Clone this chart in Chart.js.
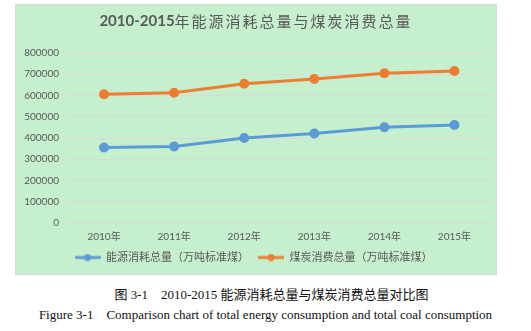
<!DOCTYPE html>
<html>
<head>
<meta charset="utf-8">
<script src="https://cdn.jsdelivr.net/npm/chart.js@4.4.0/dist/chart.umd.min.js"></script>
<style>
  body { margin: 0; background: #fff; width: 531px; height: 331px; overflow: hidden; }
  #box { position: absolute; left: 15px; top: 4px; width: 482px; height: 271px;
         background: #c6efce; border: 1px solid #d9d9d9; box-sizing: border-box; }
  #box canvas { display: block; }
  .cap { position: absolute; left: 0; width: 531px; text-align: center; color: #111;
         font-family: "Liberation Serif", "Noto Sans CJK SC", serif; font-size: 13px; white-space: pre; }
</style>
</head>
<body>
<div id="box"><canvas id="chartContainer" width="480" height="269"></canvas></div>
<div class="cap" style="top:284px; padding-left:12px; box-sizing:border-box;">图 3-1    2010-2015 能源消耗总量与煤炭消费总量对比图</div>
<div class="cap" style="top:307px;">Figure 3-1    Comparison chart of total energy consumption and total coal consumption</div>
<script>
// years and the two series (万吨标准煤)
var years = ['2010年', '2011年', '2012年', '2013年', '2014年', '2015年']
var energyTotal = [355000, 360000, 400000, 421000, 451000, 461000]
var coalTotal = [606000, 613000, 655000, 678000, 705000, 715000]
var seriesNames = ['能源消耗总量（万吨标准煤）', '煤炭消费总量（万吨标准煤）']
var titleYears = '2010-2015'
var titleText = '年能源消耗总量与煤炭消费总量'

var blue = '#5b9bd5'
var orange = '#ed7d31'
var grey = '#595959'
var fontStack = 'Lato, "Noto Sans CJK SC", sans-serif'

// small line-with-dot swatch for the legend
function legendSwatch(color) {
    var c = document.createElement('canvas')
    c.width = 26; c.height = 8
    var g = c.getContext('2d')
    g.strokeStyle = color; g.lineWidth = 3
    g.beginPath(); g.moveTo(0, 4); g.lineTo(26, 4); g.stroke()
    g.fillStyle = color
    g.beginPath(); g.arc(13, 4, 3.5, 0, Math.PI * 2); g.fill()
    return c
}

// title has bold digits and a regular CJK part
var titlePlugin = {
    id: 'mixedTitle',
    afterDraw: function(chart) {
        var ctx = chart.ctx
        ctx.save()
        ctx.textBaseline = 'middle'
        ctx.fillStyle = grey
        ctx.font = 'bold 15px ' + fontStack
        var w1 = ctx.measureText(titleYears).width
        ctx.font = '15px "Noto Sans CJK SC", sans-serif'
        ctx.letterSpacing = '2px'
        var w2 = ctx.measureText(titleText).width
        var x = chart.width / 2 - (w1 + w2) / 2
        var y = 16
        ctx.font = 'bold 15px ' + fontStack
        ctx.letterSpacing = '0px'
        ctx.fillText(titleYears, x, y)
        ctx.font = '15px "Noto Sans CJK SC", sans-serif'
        ctx.letterSpacing = '2px'
        ctx.fillText(titleText, x + w1, y)
        ctx.restore()
    }
}

var ctx = document.getElementById('chartContainer').getContext('2d')
var myChart = new Chart(ctx, {
    type: 'line',
    data: {
        labels: years,
        datasets: [{
            label: seriesNames[0],
            data: energyTotal,
            borderColor: blue,
            backgroundColor: blue,
            borderWidth: 3,
            pointRadius: 3.5,
            pointHoverRadius: 3.5
        }, {
            label: seriesNames[1],
            data: coalTotal,
            borderColor: orange,
            backgroundColor: orange,
            borderWidth: 3,
            pointRadius: 3.5,
            pointHoverRadius: 3.5
        }]
    },
    options: {
        responsive: false,
        animation: false,
        layout: { padding: { top: 48, left: 0, right: 5, bottom: 1 } },
        plugins: {
            title: { display: false },
            tooltip: { enabled: false },
            legend: {
                position: 'bottom',
                labels: {
                    color: grey,
                    font: { family: fontStack, size: 11 },
                    usePointStyle: true,
                    pointStyleWidth: 26,
                    padding: 9,
                    generateLabels: function(chart) {
                        return chart.data.datasets.map(function(ds, i) {
                            return {
                                text: ds.label,
                                pointStyle: legendSwatch(ds.borderColor),
                                fillStyle: ds.borderColor,
                                strokeStyle: ds.borderColor,
                                lineWidth: 0,
                                fontColor: grey,
                                datasetIndex: i
                            }
                        })
                    }
                }
            }
        },
        scales: {
            x: {
                offset: true,
                grid: { display: false },
                border: { display: false },
                ticks: { color: grey, font: { family: fontStack, size: 10 }, padding: 0, maxRotation: 0 }
            },
            y: {
                min: 0,
                max: 800000,
                afterFit: function(scale) { scale.width = 53 },
                grid: { color: '#d9d9d9', lineWidth: 1, drawTicks: false },
                border: { display: false },
                ticks: {
                    stepSize: 100000, color: grey, font: { family: fontStack, size: 10 }, padding: 10,
                    callback: function(v) { return String(v) }
                }
            }
        }
    },
    plugins: [titlePlugin]
})
</script>
</body>
</html>
